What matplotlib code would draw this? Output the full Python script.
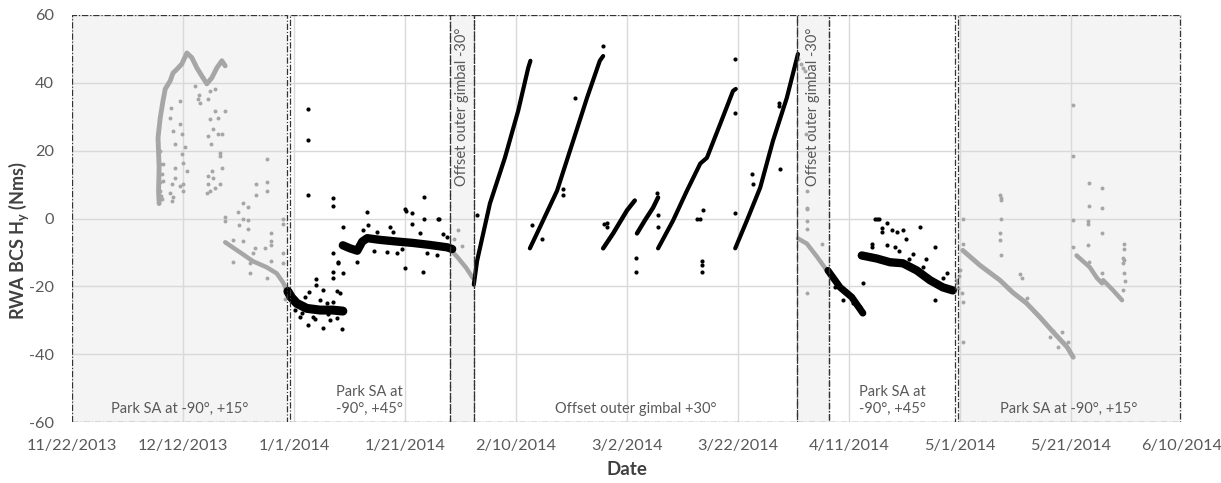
import numpy as np
import matplotlib.pyplot as plt
import matplotlib.dates as mdates
from matplotlib.patches import Rectangle
from datetime import datetime

plt.rcParams['font.family'] = ['Lato', 'DejaVu Sans']
plt.rcParams['axes.unicode_minus'] = False

start = datetime(2013, 11, 22)
# everything below is in days after 11/22/2013
tick_days = [0, 20, 40, 60, 80, 100, 120, 140, 160, 180, 200]
y_ticks = [-60, -40, -20, 0, 20, 40, 60]

region_start = [0, 39.2, 68.1, 72.4, 130.6, 136.4, 159.6]
region_end = [38.7, 68.1, 72.4, 130.6, 136.4, 159.1, 199.6]
region_shaded = [True, False, True, False, True, False, True]
region_label = ["Park SA at -90°, +15°", "Park SA at\n-90°, +45°",
                "Offset outer gimbal -30°", "Offset outer gimbal +30°",
                "Offset outer gimbal -30°", "Park SA at\n-90°, +45°",
                "Park SA at -90°, +15°"]
region_vertical = [False, False, True, False, True, False, False]

# dense gray streaks (spacecraft parked)
dec_curve_d = [15.7, 15.6, 15.7, 15.5, 15.9, 16.4, 16.8, 17.7, 18.2, 18.9, 19.8, 20.7,
               21.6, 22.5, 23.4, 24.3, 25.2, 26.1, 27.0, 27.6]
dec_curve_v = [4.4, 8.2, 15.0, 23.8, 29.7, 34.7, 38.2, 40.6, 42.9, 44.0, 45.6, 48.8,
               47.4, 44.4, 42.0, 39.7, 41.5, 44.4, 46.5, 45.0]
dec_tail_d = [27.6, 30.3, 32.6, 35.1, 36.9, 38.0, 38.7]
dec_tail_v = [-7.0, -10.0, -12.6, -14.4, -16.2, -18.8, -21.2]
feb_gray_d = [68.1, 69.5, 71.0, 72.2]
feb_gray_v = [-9.0, -11.5, -14.5, -17.5]
apr_gray_d = [130.8, 132.4, 134.2, 136.0]
apr_gray_v = [-5.9, -7.4, -11.2, -15.3]
may_line1_d = [160.5, 163.6, 167.2, 169.5, 172.0, 174.4, 176.8, 179.3, 180.4]
may_line1_v = [-9.4, -13.8, -18.2, -21.8, -25.0, -29.1, -33.5, -37.9, -40.9]
may_line2_d = [181.0, 183.4, 184.7, 185.6, 185.8, 187.6, 189.2]
may_line2_v = [-10.9, -14.4, -17.6, -19.1, -18.2, -21.2, -24.1]

gray_pts_d = [18.2, 18.6, 19.5, 19.8, 19.8, 20.0, 18.6, 18.6, 18.0, 18.2, 17.7, 19.5, 20.0,
              20.7, 20.4, 17.8, 17.7, 19.5, 22.7, 22.2, 24.9, 25.8, 24.5, 24.9, 25.8, 26.3,
              27.6, 25.4, 26.3, 27.0, 24.5, 25.0, 26.7, 26.7, 27.0, 25.2, 24.5, 25.4, 26.7,
              24.5, 24.9, 25.8, 24.3, 15.9, 16.4, 15.9, 16.2, 15.9, 16.4, 18.0, 20.0, 22.9,
              23.1, 16.0, 16.3, 15.8,
              35.1, 33.2, 35.1, 35.1, 33.2, 30.8, 31.7, 29.9, 30.8, 31.7, 30.1, 31.7, 27.6,
              27.6, 29.0, 30.8, 35.9, 35.9, 35.9, 38.0, 38.0, 33.0, 34.8, 29.0, 32.1, 32.1,
              35.1, 32.6, 35.9, 38.0, 38.0, 38.4,
              69.5, 68.8, 70.2,
              130.9, 131.4, 132.0, 131.8, 132.4, 132.4, 132.4, 132.4, 135.2, 132.2, 132.4,
              132.4,
              159.5, 160.0, 160.4, 160.5, 160.5, 160.5, 160.5, 159.3, 159.6, 159.8,
              167.2, 167.4, 167.3, 167.4, 167.2, 167.2, 167.4, 171.2, 172.1, 170.8, 176.2,
              176.8, 178.4, 178.6, 179.5, 177.7,
              180.4, 180.4, 180.4, 180.4, 183.2, 183.2, 183.0, 183.0, 183.0, 183.2, 185.6,
              185.6, 185.6, 185.6, 189.4, 189.4, 189.6, 189.6, 189.5, 189.7, 189.3, 189.5]
gray_pts_v = [25.9, 22.0, 28.0, 25.0, 19.0, 16.5, 15.0, 12.0, 10.3, 6.2, 7.6, 9.7, 8.2,
              14.0, 21.0, 32.6, 29.7, 34.7, 35.3, 39.0, 37.6, 38.2, 35.3, 29.4, 31.8, 29.7,
              31.8, 26.5, 25.0, 25.0, 24.4, 22.0, 19.4, 18.5, 15.0, 14.1, 12.6, 11.8, 10.3,
              10.3, 8.2, 9.1, 7.6, 16.2, 16.2, 20.0, 13.2, 8.2, 11.2, 5.3, 10.3, 36.5,
              34.0, 6.5, 5.8, 10.8,
              17.6, 10.3, 10.9, 8.2, 7.0, 4.7, 3.5, 1.8, 0.0, -0.3, -2.0, -3.2, 0.3,
              -0.6, -6.2, -6.5, -4.4, -6.5, -7.9, 0.0, -1.5, -8.8, -8.8, -12.9, -13.2, -16.2,
              -17.4, -10.3, -12.4, -10.3, -13.2, -23.8,
              -3.5, -6.0, -8.0,
              47.0, 45.6, 43.5, 44.5, 8.2, 2.9, -0.6, -22.0, -7.4, 25.0, 3.2, -3.0,
              -19.1, -15.3, -22.0, -24.7, 0.0, -7.4, -36.5, -18.0, -20.5, -17.0,
              6.8, 6.0, 5.4, 0.0, -4.4, -6.2, -10.9, -17.4, -23.5, -16.5, -35.0,
              -33.3, -33.5, -36.5, -36.5, -37.9,
              33.5, 18.5, -0.3, -8.5, 10.6, 3.8, -0.6, -1.5, -7.9, -12.9, 9.1,
              3.2, -4.4, -16.2, -11.5, -13.0, -9.0, -7.5, -16.0, -18.5, -21.0, -12.3]

# dense black streaks (spacecraft tracking)
jan_band1_d = [38.9, 39.5, 40.5, 42.3, 44.7, 47.0, 48.8]
jan_band1_v = [-21.5, -23.2, -25.0, -26.5, -27.0, -27.0, -27.3]
jan_band2_d = [48.8, 50.1, 51.4, 52.3, 53.2, 55.5, 58.6, 61.4, 64.5, 67.6, 68.5]
jan_band2_v = [-7.9, -8.8, -9.5, -6.8, -5.8, -6.3, -6.8, -7.2, -7.8, -8.5, -9.0]
ramp1_d = [72.4, 73.0, 75.3, 78.0, 80.4, 82.2, 82.6]
ramp1_v = [-19.5, -12.4, 4.4, 17.9, 31.8, 44.4, 46.5]
ramp2_d = [82.5, 84.3, 87.4, 90.3, 92.8, 95.1, 95.7]
ramp2_v = [-8.8, -2.6, 8.2, 22.9, 35.6, 46.5, 47.9]
ramp3_d = [95.7, 97.5, 100.0, 101.4]
ramp3_v = [-8.8, -4.4, 2.4, 5.3]
ramp4_d = [101.8, 103.2, 104.7, 105.6]
ramp4_v = [-4.4, -0.6, 3.2, 6.2]
ramp5_d = [105.6, 108.3, 110.8, 113.2, 114.4, 116.8, 119.1, 119.6]
ramp5_v = [-8.8, -0.6, 8.2, 16.2, 17.9, 27.9, 37.6, 38.2]
ramp6_d = [119.5, 121.6, 124.0, 126.3, 128.8, 130.8]
ramp6_v = [-8.8, -0.6, 9.1, 22.9, 35.6, 48.5]
apr_band1_d = [136.2, 138.4, 140.5, 142.5]
apr_band1_v = [-15.3, -20.3, -23.2, -27.9]
apr_band2_d = [142.3, 145.0, 147.4, 149.7, 152.2, 154.6, 156.9, 158.7]
apr_band2_v = [-10.9, -11.8, -12.9, -13.2, -15.3, -18.2, -20.3, -21.2]

black_pts_d = [42.5, 42.5, 42.5, 47.0, 47.0, 44.0, 44.0, 42.7, 45.2, 47.7, 48.3, 44.7,
               41.1, 42.5, 45.2, 48.6, 46.5, 43.4, 47.7, 42.0, 46.0, 47.0, 47.0, 47.0,
               47.0, 47.9, 47.9, 48.8, 48.8, 41.5, 43.8, 46.2, 40.2,
               53.2, 60.0, 60.2, 61.3, 63.4, 63.4, 65.9, 66.2, 60.0, 63.2, 51.4, 53.3,
               57.3, 61.3, 56.8, 58.6, 64.0, 65.8, 55.0, 57.8, 62.7, 67.6, 54.5, 59.5,
               66.8, 52.5,
               90.6, 95.7, 88.5, 88.5, 82.9, 84.7, 96.4, 96.4, 95.8, 101.6, 101.6, 105.4,
               105.6, 105.6, 112.6, 113.2, 113.7, 119.5, 119.5, 119.5, 113.5, 113.5, 113.5,
               127.3, 127.3, 122.5, 122.7, 127.6, 73.0,
               145.0, 144.6, 145.4, 144.1, 144.1, 145.9, 145.9, 146.8, 147.7, 148.6, 149.8,
               150.2, 152.8, 155.5, 155.5, 142.5, 146.8, 148.2, 149.0, 150.9, 153.3, 156.9,
               157.6, 140.7, 142.0, 137.5, 139.0, 151.5, 153.8]
black_pts_v = [32.4, 23.2, 7.0, 5.9, 3.8, -17.9, -19.7, -21.8, -21.2, -21.5, -22.1, -24.1,
               -29.1, -31.5, -32.4, -32.6, -30.0, -29.1, -29.4, -23.2, -25.0, -24.7, -10.3,
               -15.9, -17.4, -12.9, -13.2, -16.2, -2.6, -28.0, -29.5, -28.3, -27.0,
               1.8, 2.9, 2.3, 1.5, 6.2, 0.0, 0.0, 0.0, -14.7, -15.9, -12.9, -2.0,
               -2.6, -1.5, -10.0, -10.3, -10.3, -10.9, -4.1, -4.1, -4.4, -5.6, -9.5, -9.0,
               -4.5, -3.5,
               35.6, 50.9, 8.8, 6.8, -2.0, -5.9, -1.2, -2.6, -1.6, -11.5, -15.9, 7.4,
               1.0, -2.6, 0.0, 0.0, 2.4, 47.0, 31.2, 1.5, -12.4, -13.8, -15.9,
               34.1, 33.3, 13.2, 10.3, 14.7, 0.9,
               0.0, 0.0, 0.0, -7.4, -8.4, -2.9, -4.1, -1.2, -3.5, -4.1, -3.5,
               -5.9, -2.6, -8.5, -24.1, -19.1, -7.9, -8.3, -9.5, -11.8, -14.4, -17.4,
               -16.2, -25.0, -26.2, -20.3, -24.1, -10.5, -12.0]

base = mdates.date2num(start)


def dx(days):
    return base + np.asarray(days)


fig = plt.figure(figsize=(12.21, 4.83), dpi=100)
ax = fig.add_axes([72 / 1221, 61 / 483, 1110 / 1221, 407 / 483])

for s, e, shade, lab, vert in zip(region_start, region_end, region_shaded,
                                  region_label, region_vertical):
    if shade:
        ax.add_patch(Rectangle((dx(s), -60), e - s, 120, facecolor='#f4f4f4',
                               edgecolor='none', zorder=0))
    ax.add_patch(Rectangle((dx(s), -60), e - s, 120, facecolor='none',
                           edgecolor='#333333', lw=0.9,
                           linestyle=(0, (5, 1.5, 1, 1.5)), zorder=4))
    mid = dx((s + e) / 2)
    if vert:
        ax.text(mid, 33, lab, rotation=90, ha='center', va='center',
                fontsize=10.5, color='#595959', zorder=5)
    else:
        ax.text(mid, -58.3, lab, ha='center', va='bottom', fontsize=10.5,
                color='#595959', linespacing=1.3, zorder=5)

for d, v, w in [(dec_curve_d, dec_curve_v, 3.5), (dec_tail_d, dec_tail_v, 3.2),
                (feb_gray_d, feb_gray_v, 3.2), (apr_gray_d, apr_gray_v, 3.2),
                (may_line1_d, may_line1_v, 3.5), (may_line2_d, may_line2_v, 3.2)]:
    ax.plot(dx(d), v, color='#a6a6a6', lw=w, solid_capstyle='round', zorder=2)
ax.scatter(dx(gray_pts_d), gray_pts_v, s=8, color='#a6a6a6', lw=0, zorder=2)

for d, v, w in [(jan_band1_d, jan_band1_v, 6.5), (jan_band2_d, jan_band2_v, 6),
                (ramp1_d, ramp1_v, 3), (ramp2_d, ramp2_v, 3), (ramp3_d, ramp3_v, 3.2),
                (ramp4_d, ramp4_v, 3.2), (ramp5_d, ramp5_v, 3), (ramp6_d, ramp6_v, 3),
                (apr_band1_d, apr_band1_v, 5), (apr_band2_d, apr_band2_v, 6)]:
    ax.plot(dx(d), v, color='black', lw=w, solid_capstyle='round', zorder=3)
ax.scatter(dx(black_pts_d), black_pts_v, s=9, color='black', lw=0, zorder=3)

ax.set_xlim(dx(0), dx(200))
ax.set_ylim(-60, 60)
ax.set_xticks(dx(tick_days))
ax.xaxis.set_major_formatter(
    plt.FuncFormatter(lambda x, p: '{d.month}/{d.day}/{d.year}'.format(d=mdates.num2date(x))))
ax.set_yticks(y_ticks)
ax.grid(True, color='#d9d9d9', lw=1, zorder=1)
ax.set_axisbelow(True)
for sp in ax.spines.values():
    sp.set_visible(False)
ax.tick_params(length=0, labelsize=11.7, labelcolor='#595959')
ax.tick_params(axis='x', pad=12)
ax.tick_params(axis='y', pad=13)
ax.set_xlabel('Date', fontsize=13.5, fontweight='bold', color='#404040', labelpad=6)
ax.set_ylabel('RWA BCS H$_\\mathregular{y}$ (Nms)', fontsize=13, fontweight='bold',
              color='#404040', va='center')
ax.yaxis.set_label_coords(-0.048, 0.447)

fig.savefig('out.png', dpi=100)
